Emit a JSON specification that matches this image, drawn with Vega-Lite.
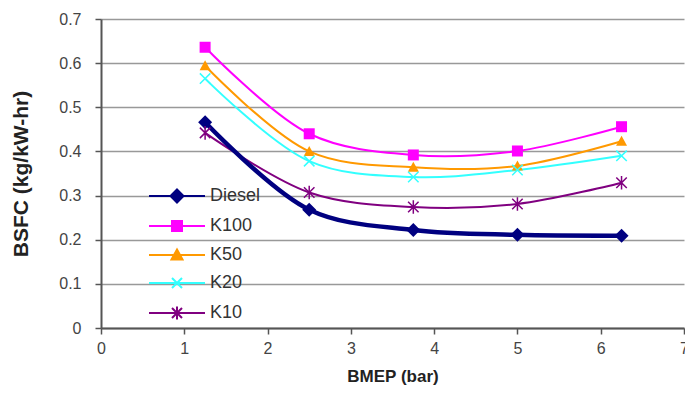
{
  "$schema": "https://vega.github.io/schema/vega-lite/v6.json",
  "width": 583,
  "height": 309,
  "autosize": "none",
  "padding": {"left": 101, "top": 19, "right": 1, "bottom": 82},
  "background": "white",
  "config": {"view": {"stroke": null}, "font": "Liberation Sans"},
  "data": {"values": [
    {"fuel": "Diesel", "bmep": 1.25, "bsfc": 0.466},
    {"fuel": "Diesel", "bmep": 2.5, "bsfc": 0.268},
    {"fuel": "Diesel", "bmep": 3.75, "bsfc": 0.222},
    {"fuel": "Diesel", "bmep": 5, "bsfc": 0.211},
    {"fuel": "Diesel", "bmep": 6.25, "bsfc": 0.209},
    {"fuel": "K100", "bmep": 1.25, "bsfc": 0.636},
    {"fuel": "K100", "bmep": 2.5, "bsfc": 0.44},
    {"fuel": "K100", "bmep": 3.75, "bsfc": 0.392},
    {"fuel": "K100", "bmep": 5, "bsfc": 0.401},
    {"fuel": "K100", "bmep": 6.25, "bsfc": 0.456},
    {"fuel": "K50", "bmep": 1.25, "bsfc": 0.594},
    {"fuel": "K50", "bmep": 2.5, "bsfc": 0.4},
    {"fuel": "K50", "bmep": 3.75, "bsfc": 0.364},
    {"fuel": "K50", "bmep": 5, "bsfc": 0.367},
    {"fuel": "K50", "bmep": 6.25, "bsfc": 0.423},
    {"fuel": "K20", "bmep": 1.25, "bsfc": 0.565},
    {"fuel": "K20", "bmep": 2.5, "bsfc": 0.378},
    {"fuel": "K20", "bmep": 3.75, "bsfc": 0.342},
    {"fuel": "K20", "bmep": 5, "bsfc": 0.358},
    {"fuel": "K20", "bmep": 6.25, "bsfc": 0.39},
    {"fuel": "K10", "bmep": 1.25, "bsfc": 0.442},
    {"fuel": "K10", "bmep": 2.5, "bsfc": 0.307},
    {"fuel": "K10", "bmep": 3.75, "bsfc": 0.274},
    {"fuel": "K10", "bmep": 5, "bsfc": 0.281},
    {"fuel": "K10", "bmep": 6.25, "bsfc": 0.329}
  ]},
  "encoding": {
    "x": {
      "field": "bmep", "type": "quantitative",
      "scale": {"domain": [0, 7], "nice": false},
      "axis": {
        "title": "BMEP (bar)", "titleFontSize": 17, "titleFontWeight": "bold", "titleColor": "#222",
        "labelFontSize": 16, "labelColor": "#444", "grid": false,
        "values": [0, 1, 2, 3, 4, 5, 6, 7], "format": "d",
        "domainColor": "#555", "domainWidth": 2, "tickColor": "#555", "tickWidth": 1.5, "tickSize": 6,
        "labelPadding": 6, "titlePadding": 12, "labelFlush": false
      }
    },
    "y": {
      "field": "bsfc", "type": "quantitative",
      "scale": {"domain": [0, 0.7], "nice": false},
      "axis": {
        "title": "BSFC (kg/kW-hr)", "titleFontSize": 21, "titleFontWeight": "bold", "titleColor": "#222",
        "labelFontSize": 16, "labelColor": "#444",
        "values": [0, 0.1, 0.2, 0.3, 0.4, 0.5, 0.6, 0.7], "format": "~g",
        "grid": true, "gridColor": "#999", "gridWidth": 1.5,
        "domainColor": "#555", "domainWidth": 2, "tickColor": "#555", "tickWidth": 1.5, "tickSize": 6,
        "labelPadding": 14, "titlePadding": 27
      }
    },
    "color": {
      "field": "fuel", "type": "nominal",
      "scale": {"domain": ["Diesel", "K100", "K50", "K20", "K10"], "range": ["#000080", "#FF00FF", "#FF9900", "#33FFFF", "#800080"]},
      "legend": {
        "orient": "none", "legendX": 67, "legendY": 168, "title": null, "padding": 0,
        "labelFontSize": 18, "labelColor": "#333", "labelFont": "Liberation Sans",
        "labelOffset": 24, "rowPadding": 10, "symbolSize": 100, "symbolStrokeWidth": 2,
        "encode": {
          "symbols": {
            "update": {
              "shape": {"signal": "datum.value === 'Diesel' ? 'M-5.6,0H5.6M0,-1.3L1.3,0L0,1.3L-1.3,0Z' : datum.value === 'K100' ? 'M-5.6,0H5.6M-1,-1H1V1H-1Z' : datum.value === 'K50' ? 'M-5.6,0H5.6M0,-1.1L1.1,0.9H-1.1Z' : datum.value === 'K20' ? 'M-5.6,0H5.6M-1,-1L1,1M-1,1L1,-1' : 'M-5.6,0H5.6M-1,-1L1,1M-1,1L1,-1M0,-1.3V1.3'"},
              "size": {"value": 100},
              "strokeWidth": {"value": 2},
              "fill": {"scale": "color", "field": "value"},
              "stroke": {"scale": "color", "field": "value"},
              "opacity": {"value": 1},
              "fillOpacity": {"value": 1},
              "strokeOpacity": {"value": 1}
            }
          }
        }
      }
    }
  },
  "layer": [
    {
      "transform": [{"filter": {"field": "fuel", "oneOf": ["K100", "K50", "K20", "K10"]}}],
      "mark": {"type": "line", "interpolate": "catmull-rom", "strokeWidth": 2}
    },
    {
      "transform": [{"filter": {"field": "fuel", "equal": "Diesel"}}],
      "mark": {"type": "line", "interpolate": "catmull-rom", "strokeWidth": 4.5}
    },
    {
      "transform": [{"filter": {"field": "fuel", "equal": "Diesel"}}],
      "mark": {"type": "point", "filled": true, "opacity": 1, "shape": "M0,-1L1,0L0,1L-1,0Z", "size": 196}
    },
    {
      "transform": [{"filter": {"field": "fuel", "equal": "K100"}}],
      "mark": {"type": "point", "filled": true, "opacity": 1, "shape": "M-1,-1H1V1H-1Z", "size": 121}
    },
    {
      "transform": [{"filter": {"field": "fuel", "equal": "K50"}}],
      "mark": {"type": "point", "filled": true, "opacity": 1, "shape": "M0,-1.1L1.1,0.9H-1.1Z", "size": 100}
    },
    {
      "transform": [{"filter": {"field": "fuel", "equal": "K20"}}],
      "mark": {"type": "point", "filled": false, "opacity": 1, "strokeWidth": 1.5, "shape": "M-1,-1L1,1M-1,1L1,-1", "size": 110}
    },
    {
      "transform": [{"filter": {"field": "fuel", "equal": "K10"}}],
      "mark": {"type": "point", "filled": false, "opacity": 1, "strokeWidth": 1.5, "shape": "M-1,-1L1,1M-1,1L1,-1M0,-1.3V1.3", "size": 110}
    }
  ]
}
